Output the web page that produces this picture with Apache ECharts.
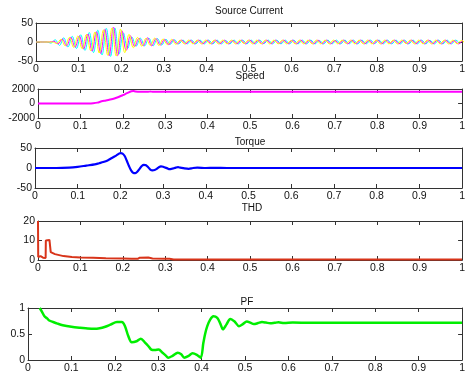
<!DOCTYPE html>
<html>
<head>
<meta charset="utf-8">
<script src="https://cdn.jsdelivr.net/npm/echarts@6/dist/echarts.min.js"></script>
<style>
  html, body { margin: 0; padding: 0; background: #fff; }
  #chart { width: 468px; height: 374px; }
</style>
</head>
<body>
<div id="chart"></div>
<script>
// ---- Source current: half-cycle peak values of each phase (A), 50 Hz supply ----
const halfCycle = 0.01;
const phaseOffsets = [0.005, 0.005 + 0.02 / 3, 0.005 + 0.04 / 3];
const currentA = [
  0, 0, 0, -3, 6, -9, 11, -13, 15, -17,
  19, -22, 25, -28, 31, -34, 36, -38, 37, -32,
  24, -17, 13, -11, 10, -10, 10, -10, 9, -8,
  7, -6, 6, -5, 5, -5, 5, -5, 5, -5,
  5, -5, 5, -5, 4, -5, 5, -5, 5, -5,
  5, -5, 5, -4, 5, -5, 5, -5, 5, -5,
  5, -5, 5, -5, 5, -5, 4, -5, 5, -5,
  5, -5, 5, -5, 5, -5, 5, -5, 5, -4,
  5, -5, 5, -5, 5, -5, 5, -5, 5, -5,
  5, -5, 4, -5, 5, -5, 5, -5, 5, -5
];
const currentB = [
  0, 0, 0, 2, -5, 8, -10, 12, -14, 16,
  -18, 21, -24, 27, -30, 33, -36, 39, -36, 30,
  -22, 16, -12, 10, -10, 11, -10, 9, -8, 7,
  -7, 6, -5, 5, -5, 5, -5, 5, -5, 5,
  -5, 5, -5, 5, -5, 4, -5, 5, -5, 5,
  -5, 5, -5, 5, -5, 5, -4, 5, -5, 5,
  -5, 5, -5, 5, -5, 5, -5, 5, -5, 4,
  -5, 5, -5, 5, -5, 5, -5, 5, -5, 5,
  -5, 5, -4, 5, -5, 5, -5, 5, -5, 5,
  -5, 5, -5, 5, -5, 5, -5, 4, -5, 5
];
const currentC = [
  0, 0, 0, -4, 7, -10, 12, -14, 16, -18,
  20, -23, 26, -29, 32, -35, 37, -37, 34, -28,
  20, -15, 12, -11, 10, -9, 10, -9, 8, -7,
  7, -6, 5, -5, 5, -5, 5, -5, 5, -5,
  5, -5, 5, -5, 5, -5, 5, -4, 5, -5,
  5, -5, 5, -5, 5, -5, 5, -5, 4, -5,
  5, -5, 5, -5, 5, -5, 5, -5, 5, -5,
  5, -4, 5, -5, 5, -5, 5, -5, 5, -5,
  5, -5, 5, -5, 5, -4, 5, -5, 5, -5,
  5, -5, 5, -5, 5, -5, 5, -5, 4, -5
];

// ---- Speed (rpm) ----
const speedT = [0, 0.12, 0.13, 0.14, 0.15, 0.16, 0.17, 0.18, 0.19, 0.2, 0.21, 0.22, 0.225, 0.23, 0.24, 0.26, 0.265, 0.27, 1.0];
const speedV = [0, 0, 30, 120, 300, 420, 550, 700, 900, 1150, 1420, 1680, 1720, 1660, 1620, 1620, 1660, 1620, 1620];

// ---- Torque (N·m) ----
const torqueT = [0, 0.05, 0.08, 0.1, 0.12, 0.14, 0.15, 0.16, 0.17, 0.18, 0.19, 0.2, 0.205, 0.21, 0.215, 0.22, 0.225, 0.23, 0.235, 0.24, 0.245, 0.25, 0.255, 0.26, 0.265, 0.27, 0.275, 0.28, 0.285, 0.29, 0.295, 0.3, 0.31, 0.315, 0.32, 0.33, 0.335, 0.34, 0.35, 0.36, 0.37, 0.38, 0.4, 0.42, 0.45, 1.0];
const torqueV = [0, 0, 1, 3, 6, 9, 12, 15, 19, 25, 31, 37, 36, 30, 18, 5, -6, -12, -13, -9, -2, 5, 8, 7, 2, -4, -6, -5, -2, 2, 4, 3, -1, -3, -2, 1, 2, 1, -1, -2, 0, 1, 0, 0.5, 0, 0];

// ---- THD (%) ----
const thdT = [0, 0.0005, 0.003, 0.006, 0.009, 0.012, 0.015, 0.018, 0.0185, 0.021, 0.027, 0.029, 0.03, 0.035, 0.04, 0.05, 0.06, 0.08, 0.1, 0.13, 0.16, 0.2, 0.22, 0.235, 0.24, 0.26, 0.27, 0.3, 0.31, 0.32, 0.4, 1.0];
const thdV = [20, 1.5, 1.5, 2, 1.8, 1.2, 1.0, 1.0, 10, 10.5, 10.3, 10, 4, 3.5, 3, 2.5, 2, 1.6, 1.3, 1.1, 0.9, 0.8, 0.6, 0.6, 1.2, 1.3, 0.8, 0.6, 0.6, 0.3, 0.3, 0.3];

// ---- Power factor ----
const pfT = [0.027, 0.032, 0.038, 0.044, 0.049, 0.058, 0.068, 0.08, 0.1, 0.12, 0.133, 0.152, 0.165, 0.178, 0.19, 0.205, 0.216, 0.223, 0.231, 0.239, 0.25, 0.26, 0.269, 0.277, 0.284, 0.292, 0.301, 0.31, 0.317, 0.323, 0.333, 0.345, 0.353, 0.36, 0.37, 0.379, 0.389, 0.398, 0.404, 0.408, 0.413, 0.42, 0.427, 0.436, 0.443, 0.449, 0.457, 0.466, 0.476, 0.486, 0.495, 0.504, 0.512, 0.52, 0.53, 0.539, 0.548, 0.558, 0.568, 0.577, 0.59, 0.61, 0.65, 1.0];
const pfV = [1.0, 0.93, 0.84, 0.8, 0.76, 0.73, 0.70, 0.67, 0.64, 0.62, 0.61, 0.60, 0.61, 0.64, 0.68, 0.73, 0.73, 0.66, 0.46, 0.34, 0.36, 0.41, 0.34, 0.27, 0.20, 0.19, 0.20, 0.14, 0.09, 0.045, 0.08, 0.14, 0.11, 0.045, 0.08, 0.13, 0.1, 0.045, 0.33, 0.5, 0.65, 0.78, 0.84, 0.81, 0.70, 0.59, 0.68, 0.79, 0.74, 0.65, 0.69, 0.74, 0.72, 0.69, 0.71, 0.73, 0.72, 0.705, 0.715, 0.725, 0.71, 0.72, 0.715, 0.715];

// ---- Panel titles and axis settings ----
const titles = ['Source Current', 'Speed', 'Torque', 'THD', 'PF'];
const yRanges = [[-50, 50, 50], [-2000, 2000, 2000], [-50, 50, 50], [0, 20, 10], [0, 1, 0.5]];

const FONT = 'Liberation Sans, Arial, Helvetica, sans-serif';
const AXIS_COLOR = '#333';

const grids = [
  { left: 36, right: 2, top: 23, height: 38 },
  { left: 38, right: 2, top: 89, height: 29 },
  { left: 35, right: 2, top: 148, height: 40 },
  { left: 38, right: 2, top: 221, height: 39 },
  { left: 28, width: 442, top: 308, height: 53 }
];
const titlePos = [[249, 11], [250, 76], [250, 142], [252, 208], [247, 302]];

const plainNumber = v => String(v);

const xAxes = [], yAxes = [];
grids.forEach((g, i) => {
  const tick = { show: true, inside: true, length: 4, lineStyle: { color: AXIS_COLOR } };
  const line = { show: true, onZero: false, lineStyle: { color: AXIS_COLOR, width: 1 } };
  xAxes.push({
    gridIndex: i, type: 'value', position: 'bottom', min: 0, max: 1, interval: 0.1,
    axisLine: line, axisTick: tick, splitLine: { show: false },
    axisLabel: { color: '#111', fontFamily: FONT, fontSize: 10.5, margin: 3, formatter: plainNumber }
  });
  xAxes.push({
    gridIndex: i, type: 'value', position: 'top', min: 0, max: 1, interval: 0.1,
    axisLine: line, axisTick: tick, splitLine: { show: false }, axisLabel: { show: false }
  });
  const [lo, hi, step] = yRanges[i];
  yAxes.push({
    gridIndex: i, type: 'value', position: 'left', min: lo, max: hi, interval: step,
    axisLine: line, axisTick: tick, splitLine: { show: false },
    axisLabel: { color: '#111', fontFamily: FONT, fontSize: 10.5, margin: 3, formatter: plainNumber }
  });
  yAxes.push({
    gridIndex: i, type: 'value', position: 'right', min: lo, max: hi, interval: step,
    axisLine: line, axisTick: tick, splitLine: { show: false }, axisLabel: { show: false }
  });
});

function phaseSeries(values, offset) {
  const pts = [[0, 0]];
  values.forEach((v, k) => pts.push([offset + k * halfCycle, v]));
  return pts;
}
function pairs(ts, vs) { return ts.map((t, k) => [t, vs[k]]); }

function lineSeries(panel, data, color, width, smooth) {
  return {
    type: 'line', xAxisIndex: panel * 2, yAxisIndex: panel * 2, data,
    showSymbol: false, smooth: smooth || false, silent: true,
    lineStyle: { color, width }
  };
}

const series = [
  lineSeries(0, phaseSeries(currentA, phaseOffsets[0]), '#00ffff', 1, 0.4),
  lineSeries(0, phaseSeries(currentB, phaseOffsets[1]), '#ff00ff', 1, 0.4),
  lineSeries(0, phaseSeries(currentC, phaseOffsets[2]), '#ffff00', 1, 0.4),
  lineSeries(1, pairs(speedT, speedV), '#ff00ff', 2, 0.3),
  lineSeries(2, pairs(torqueT, torqueV), '#0000ff', 2.2, 0.3),
  lineSeries(3, pairs(thdT, thdV), '#d8341a', 2, false),
  lineSeries(4, pairs(pfT, pfV), '#00ee00', 2.5, 0.3)
];

const chart = echarts.init(document.getElementById('chart'), null, { renderer: 'canvas' });
chart.setOption({
  animation: false,
  backgroundColor: '#fff',
  grid: grids,
  xAxis: xAxes,
  yAxis: yAxes,
  series,
  graphic: titles.map((t, i) => ({
    type: 'text', x: titlePos[i][0], y: titlePos[i][1], z: 100,
    style: { text: t, fill: '#111', font: '10px ' + FONT, align: 'center', verticalAlign: 'middle' }
  }))
});
</script>
</body>
</html>
